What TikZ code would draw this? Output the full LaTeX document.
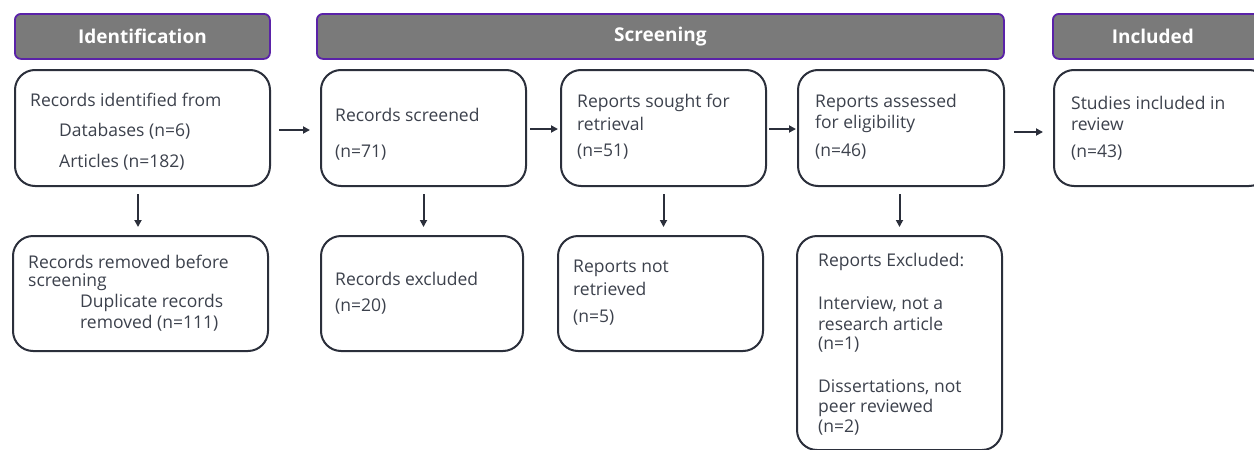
\documentclass[tikz,border=0pt]{standalone}
\usepackage{fontspec}
\setmainfont{Open Sans}
\usetikzlibrary{arrows.meta}
\definecolor{hdrfill}{HTML}{7A7A7A}
\definecolor{hdrline}{HTML}{5A22A8}
\definecolor{boxline}{HTML}{2B2F3B}
\definecolor{txt}{HTML}{3C414C}
\tikzset{
  hdr/.style={draw=hdrline, line width=1.8pt, fill=hdrfill, rounded corners=6pt,
    anchor=north west, inner sep=0pt},
  hdrtext/.style={text=white, inner sep=0pt,
    font=\fontsize{19}{21}\selectfont\bfseries},
  box/.style={draw=boxline, line width=2pt, fill=white, rounded corners=20pt,
    anchor=north west, inner sep=0pt},
  lbl/.style={anchor=west, inner sep=0pt, text=txt,
    font=\fontsize{17.5}{19}\selectfont},
  arr/.style={draw=boxline, line width=2pt,
    -{Triangle[length=7pt,width=7pt]}},
}
\begin{document}
\begin{tikzpicture}[x=1pt,y=-1pt]
\useasboundingbox (0,0) rectangle (1254,450);
\begin{scope}
\clip (0,0) rectangle (1254,450);
% phase headers
\node[hdr, minimum width=255, minimum height=45] (hid) at (14,13) {};
\node[hdr, minimum width=687, minimum height=45] (hsc) at (316,13) {};
\node[hdr, minimum width=210, minimum height=45] (hin) at (1052,13) {};
\node[hdrtext] (hidt) at (hid.center) {Identification};
\node[hdrtext] (hsct) at (hsc.center) {Screening};
\node[hdrtext] (hint) at ([xshift=-5]hin.center) {Included};

% main flow boxes
\node[box, minimum width=255, minimum height=116] (b1) at (14,69) {};
\node[box, minimum width=205, minimum height=116] (b2) at (320,69) {};
\node[box, minimum width=205, minimum height=116] (b3) at (560,69) {};
\node[box, minimum width=206, minimum height=116] (b4) at (797,69) {};
\node[box, minimum width=215, minimum height=116] (b5) at (1053,69) {};

% exclusion boxes
\node[box, minimum width=255, minimum height=115] (r1) at (12,235) {};
\node[box, minimum width=202, minimum height=115] (r2) at (320,235) {};
\node[box, minimum width=205, minimum height=115] (r3) at (557,235) {};
\node[box, minimum width=205, minimum height=214] (r4) at (796,235) {};
\end{scope}

% texts of the flow boxes
\node[lbl] (t1a) at (30,100) {Records identified from};
\node[lbl] (t1b) at (59,131) {Databases (n=6)};
\node[lbl] (t1c) at (59,162) {Articles (n=182)};
\node[lbl] (t2a) at (335,115) {Records screened};
\node[lbl] (t2b) at (335,153) {(n=71)};
\node[lbl] (t3a) at (577,103) {Reports sought for};
\node[lbl] (t3b) at (577,124) {retrieval};
\node[lbl] (t3c) at (577,152) {(n=51)};
\node[lbl] (t4a) at (815,103) {Reports assessed};
\node[lbl] (t4b) at (815,124) {for eligibility};
\node[lbl] (t4c) at (815,152) {(n=46)};
\node[lbl] (t5a) at (1071,103) {Studies included in};
\node[lbl] (t5b) at (1071,124) {review};
\node[lbl] (t5c) at (1071,153) {(n=43)};

% texts of the exclusion boxes
\node[lbl] (s1a) at (28,262) {Records removed before};
\node[lbl] (s1b) at (28,282) {screening};
\node[lbl] (s1c) at (80,303) {Duplicate records};
\node[lbl] (s1d) at (80,323) {removed (n=111)};
\node[lbl] (s2a) at (335,279) {Records excluded};
\node[lbl] (s2b) at (335,307) {(n=20)};
\node[lbl] (s3a) at (573,268) {Reports not};
\node[lbl] (s3b) at (573,289) {retrieved};
\node[lbl] (s3c) at (573,318) {(n=5)};
\node[lbl] (s4a) at (818,262) {Reports Excluded:};
\node[lbl] (s4b) at (818,304) {Interview, not a};
\node[lbl] (s4c) at (818,324) {research article};
\node[lbl] (s4d) at (818,345) {(n=1)};
\node[lbl] (s4e) at (818,387) {Dissertations, not};
\node[lbl] (s4f) at (818,408) {peer reviewed};
\node[lbl] (s4g) at (818,428) {(n=2)};

% horizontal connectors
\draw[arr, shorten <=8pt, shorten >=10pt] ([yshift=-2]b1.east) -- ([yshift=-2]b2.west);
\draw[arr, shorten <=3pt, shorten >=2pt] ([yshift=-1]b2.east) -- ([yshift=-1]b3.west);
\draw[arr, shorten <=2pt, shorten >=1pt] ([yshift=-1]b3.east) -- ([yshift=-1]b4.west);
\draw[arr, shorten <=9pt, shorten >=10pt] ([yshift=-4]b4.east) -- ([yshift=-4]b5.west);

% vertical connectors
\draw[arr, shorten <=7pt, shorten >=8pt] ([xshift=-4.5]b1.south) -- ([xshift=-2.5]r1.north);
\draw[arr, shorten <=7pt, shorten >=8pt] (b2.south) -- (b2.south |- r2.north);
\draw[arr, shorten <=7pt, shorten >=8pt] (b3.south) -- (b3.south |- r3.north);
\draw[arr, shorten <=7pt, shorten >=8pt] (r4.north |- b4.south) -- (r4.north);
\end{tikzpicture}
\end{document}
